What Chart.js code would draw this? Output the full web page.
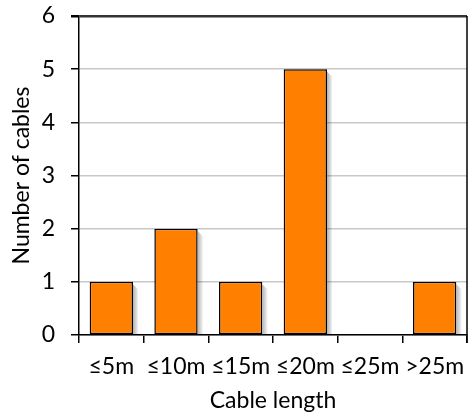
<!DOCTYPE html>
<html>
<head>
<meta charset="utf-8">
<script src="https://cdn.jsdelivr.net/npm/chart.js@4.4.1/dist/chart.umd.min.js"></script>
<style>
  html, body { margin: 0; padding: 0; background: #fff; }
  #wrap { width: 468px; height: 414px; }
</style>
</head>
<body>
<div id="wrap"><canvas id="cableChart" width="468" height="414"></canvas></div>
<script>
// Cable length histogram
const categories = ['≤5m', '≤10m', '≤15m', '≤20m', '≤25m', '>25m'];
const cableCounts = [1, 2, 1, 5, 0, 1];
const yTicks = [0, 1, 2, 3, 4, 5, 6];

const fontFamily = 'Lato, "Open Sans", "DejaVu Sans", sans-serif';

// grey drop shadow behind each bar, offset to the lower right
const barShadow = {
    id: 'barShadow',
    beforeDatasetDraw(chart) {
        const ctx = chart.ctx;
        const area = chart.chartArea;
        ctx.save();
        ctx.beginPath();
        ctx.rect(area.left, area.top, area.right - area.left, area.bottom - area.top);
        ctx.clip();
        chart.getDatasetMeta(0).data.forEach(bar => {
            const { x, y, base, width } = bar.getProps(['x', 'y', 'base', 'width'], true);
            if (base - y < 1) return;
            const left = x + width / 2;
            for (let i = 0; i < 5; i++) {
                ctx.fillStyle = `rgba(0,0,0,${0.28 - i * 0.05})`;
                ctx.fillRect(left + i, y + 3 + i, 1, base - y);
            }
        });
        ctx.restore();
    }
};

// right edge of the plot area
const plotFrame = {
    id: 'plotFrame',
    afterDraw(chart) {
        const { ctx, chartArea } = chart;
        ctx.save();
        ctx.strokeStyle = '#000';
        ctx.lineWidth = 1.5;
        ctx.beginPath();
        ctx.moveTo(chartArea.right, chartArea.top);
        ctx.lineTo(chartArea.right, chartArea.bottom + 8);
        ctx.stroke();
        ctx.restore();
    }
};

new Chart(document.getElementById('cableChart'), {
    type: 'bar',
    data: {
        labels: categories,
        datasets: [{
            data: cableCounts,
            backgroundColor: '#FF8000',
            borderColor: '#000',
            borderWidth: 1.5,
            borderSkipped: false,
            categoryPercentage: 1,
            barPercentage: 0.67
        }]
    },
    options: {
        responsive: false,
        animation: false,
        layout: { padding: { top: 16, right: 1, bottom: 0, left: 0 } },
        plugins: {
            legend: { display: false },
            tooltip: { enabled: false }
        },
        scales: {
            x: {
                offset: true,
                afterFit: axis => {
                    axis.height = 79;
                    axis.paddingLeft = 0;
                    axis.paddingRight = 0;
                },
                grid: {
                    offset: true,
                    drawOnChartArea: false,
                    drawTicks: true,
                    tickLength: 8,
                    tickColor: '#000',
                    lineWidth: 1.5
                },
                border: { color: '#000', width: 1.5 },
                ticks: {
                    color: '#000',
                    padding: 10,
                    maxRotation: 0,
                    autoSkip: false,
                    font: { family: fontFamily, size: 23 }
                },
                title: {
                    display: true,
                    text: 'Cable length',
                    color: '#000',
                    padding: { top: 0, bottom: 0 },
                    font: { family: fontFamily, size: 23 }
                }
            },
            y: {
                min: yTicks[0],
                max: yTicks[yTicks.length - 1],
                afterBuildTicks: axis => { axis.ticks = yTicks.map(v => ({ value: v })); },
                afterFit: axis => {
                    axis.width = 79;
                    axis.paddingTop = 0;
                    axis.paddingBottom = 0;
                },
                grid: {
                    color: ctx => ctx.tick && ctx.tick.value === 6 ? '#333' : '#c8c8c8',
                    lineWidth: ctx => ctx.tick && ctx.tick.value === 6 ? 2.5 : 1.5,
                    drawTicks: true,
                    tickLength: 8,
                    tickColor: '#000'
                },
                border: { color: '#000', width: 1.5 },
                ticks: {
                    color: '#000',
                    padding: 16,
                    font: { family: fontFamily, size: 23 }
                },
                title: {
                    display: true,
                    text: 'Number of cables',
                    color: '#000',
                    padding: { top: 8, bottom: 0 },
                    font: { family: fontFamily, size: 23 }
                }
            }
        }
    },
    plugins: [barShadow, plotFrame]
});
</script>
</body>
</html>
